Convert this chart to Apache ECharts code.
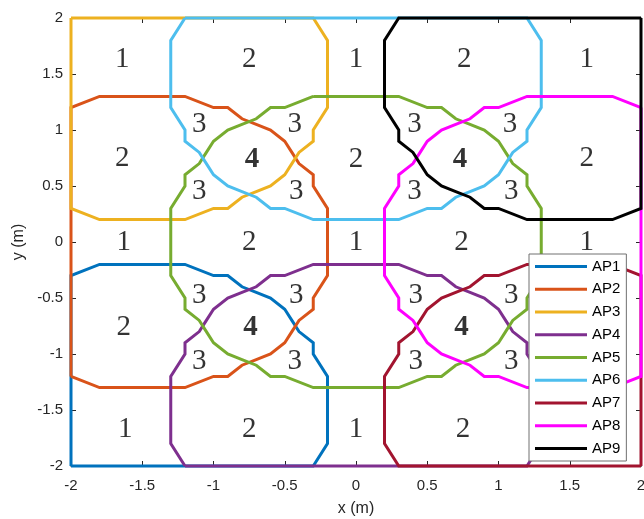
<!DOCTYPE html>
<html><head><meta charset="utf-8">
<script src="https://cdn.jsdelivr.net/npm/echarts@6/dist/echarts.min.js"></script>
<style>html,body{margin:0;padding:0;background:#fff}#c{width:644px;height:519px}</style>
</head><body><div id="c"></div>
<script>
const apNames = ['AP1','AP2','AP3','AP4','AP5','AP6','AP7','AP8','AP9'];
const apColors = ['#0072BD','#D95319','#EDB120','#7E2F8E','#77AC30','#4DBEEE','#A2142F','#FF00FF','#000000'];

const ap1 = [[-2,-2],[-2,-0.3],[-1.8,-0.2],[-1.2,-0.2],[-1.0,-0.3],[-0.9,-0.3],[-0.8,-0.4],[-0.7,-0.45],[-0.6,-0.5],[-0.5,-0.6],[-0.45,-0.7],[-0.4,-0.8],[-0.3,-0.9],[-0.3,-1.0],[-0.2,-1.2],[-0.2,-1.8],[-0.3,-2],[-2,-2]];
const ap2 = [[-2,-1.2],[-2,1.2],[-1.8,1.3],[-1.2,1.3],[-1.0,1.2],[-0.9,1.2],[-0.8,1.1],[-0.7,1.05],[-0.6,1.0],[-0.5,0.9],[-0.45,0.8],[-0.4,0.7],[-0.3,0.6],[-0.3,0.5],[-0.2,0.3],[-0.2,-0.3],[-0.3,-0.5],[-0.3,-0.6],[-0.4,-0.7],[-0.45,-0.8],[-0.5,-0.9],[-0.6,-1.0],[-0.7,-1.05],[-0.8,-1.1],[-0.9,-1.2],[-1.0,-1.2],[-1.2,-1.3],[-1.8,-1.3],[-2,-1.2]];
const ap3 = [[-2,2],[-2,0.3],[-1.8,0.2],[-1.2,0.2],[-1.0,0.3],[-0.9,0.3],[-0.8,0.4],[-0.7,0.45],[-0.6,0.5],[-0.5,0.6],[-0.45,0.7],[-0.4,0.8],[-0.3,0.9],[-0.3,1.0],[-0.2,1.2],[-0.2,1.8],[-0.3,2],[-2,2]];
const ap4 = [[-1.2,-2],[-1.3,-1.8],[-1.3,-1.2],[-1.2,-1.0],[-1.2,-0.9],[-1.1,-0.8],[-1.05,-0.7],[-1.0,-0.6],[-0.9,-0.5],[-0.8,-0.45],[-0.7,-0.4],[-0.6,-0.3],[-0.5,-0.3],[-0.3,-0.2],[0.3,-0.2],[0.5,-0.3],[0.6,-0.3],[0.7,-0.4],[0.8,-0.45],[0.9,-0.5],[1.0,-0.6],[1.05,-0.7],[1.1,-0.8],[1.2,-0.9],[1.2,-1.0],[1.3,-1.2],[1.3,-1.8],[1.2,-2],[-1.2,-2]];
const ap5 = [[-0.3,1.3],[0.3,1.3],[0.5,1.2],[0.6,1.2],[0.7,1.1],[0.8,1.05],[0.9,1.0],[1.0,0.9],[1.05,0.8],[1.1,0.7],[1.2,0.6],[1.2,0.5],[1.3,0.3],[1.3,-0.3],[1.2,-0.5],[1.2,-0.6],[1.1,-0.7],[1.05,-0.8],[1.0,-0.9],[0.9,-1.0],[0.8,-1.05],[0.7,-1.1],[0.6,-1.2],[0.5,-1.2],[0.3,-1.3],[-0.3,-1.3],[-0.5,-1.2],[-0.6,-1.2],[-0.7,-1.1],[-0.8,-1.05],[-0.9,-1.0],[-1.0,-0.9],[-1.05,-0.8],[-1.1,-0.7],[-1.2,-0.6],[-1.2,-0.5],[-1.3,-0.3],[-1.3,0.3],[-1.2,0.5],[-1.2,0.6],[-1.1,0.7],[-1.05,0.8],[-1.0,0.9],[-0.9,1.0],[-0.8,1.05],[-0.7,1.1],[-0.6,1.2],[-0.5,1.2],[-0.3,1.3]];
const ap6 = [[-1.2,2],[-1.3,1.8],[-1.3,1.2],[-1.2,1.0],[-1.2,0.9],[-1.1,0.8],[-1.05,0.7],[-1.0,0.6],[-0.9,0.5],[-0.8,0.45],[-0.7,0.4],[-0.6,0.3],[-0.5,0.3],[-0.3,0.2],[0.3,0.2],[0.5,0.3],[0.6,0.3],[0.7,0.4],[0.8,0.45],[0.9,0.5],[1.0,0.6],[1.05,0.7],[1.1,0.8],[1.2,0.9],[1.2,1.0],[1.3,1.2],[1.3,1.8],[1.2,2],[-1.2,2]];
const ap7 = [[2,-2],[0.3,-2],[0.2,-1.8],[0.2,-1.2],[0.3,-1.0],[0.3,-0.9],[0.4,-0.8],[0.45,-0.7],[0.5,-0.6],[0.6,-0.5],[0.7,-0.45],[0.8,-0.4],[0.9,-0.3],[1.0,-0.3],[1.2,-0.2],[1.8,-0.2],[2,-0.3],[2,-2]];
const ap8 = [[2,1.2],[1.8,1.3],[1.2,1.3],[1.0,1.2],[0.9,1.2],[0.8,1.1],[0.7,1.05],[0.6,1.0],[0.5,0.9],[0.45,0.8],[0.4,0.7],[0.3,0.6],[0.3,0.5],[0.2,0.3],[0.2,-0.3],[0.3,-0.5],[0.3,-0.6],[0.4,-0.7],[0.45,-0.8],[0.5,-0.9],[0.6,-1.0],[0.7,-1.05],[0.8,-1.1],[0.9,-1.2],[1.0,-1.2],[1.2,-1.3],[1.8,-1.3],[2,-1.2],[2,1.2]];
const ap9 = [[2,2],[0.3,2],[0.2,1.8],[0.2,1.2],[0.3,1.0],[0.3,0.9],[0.4,0.8],[0.45,0.7],[0.5,0.6],[0.6,0.5],[0.7,0.45],[0.8,0.4],[0.9,0.3],[1.0,0.3],[1.2,0.2],[1.8,0.2],[2,0.3],[2,2]];
const apData = [ap1, ap2, ap3, ap4, ap5, ap6, ap7, ap8, ap9];

// overlap-count labels
const labelText = ['1','2','1','2','1',
  '3','3','3','3',
  '2','4','2','4','2',
  '3','3','3','3',
  '1','2','1','2','1',
  '3','3','3','3',
  '2','4','4',
  '3','3','3','3',
  '1','2','1','2'];
const labelX = [-1.64,-0.75,0,0.76,1.62,
  -1.1,-0.43,0.41,1.08,
  -1.64,-0.73,0,0.73,1.62,
  -1.1,-0.42,0.41,1.09,
  -1.63,-0.75,0,0.74,1.62,
  -1.1,-0.42,0.42,1.09,
  -1.63,-0.74,0.74,
  -1.1,-0.43,0.42,1.09,
  -1.62,-0.75,0,0.75];
const labelY = [1.63,1.63,1.63,1.63,1.63,
  1.05,1.05,1.05,1.05,
  0.75,0.74,0.74,0.74,0.75,
  0.45,0.45,0.45,0.45,
  0,0,0,0,0,
  -0.48,-0.48,-0.48,-0.48,
  -0.76,-0.76,-0.76,
  -1.07,-1.07,-1.07,-1.07,
  -1.67,-1.67,-1.67,-1.67];

const axisColor = '#262626';
const sans = 'Liberation Sans, Arial, Helvetica, sans-serif';
const serif = 'Liberation Serif, Times New Roman, serif';

const series = apNames.map((n, i) => ({
  name: n, type: 'line', data: apData[i], symbol: 'none', clip: false,
  color: apColors[i],
  lineStyle: { width: 3, color: apColors[i], join: 'miter' },
  z: 2, animation: false
}));
series.push({
  name: 'labels', type: 'scatter', symbolSize: 1, itemStyle: { color: 'rgba(0,0,0,0)' },
  data: labelText.map((t, i) => ({
    value: [labelX[i], labelY[i]], name: t,
    label: { fontWeight: t === '4' ? 'bold' : 'normal' }
  })),
  label: { show: true, position: 'inside', formatter: p => p.name, fontFamily: serif, fontSize: 29, color: '#000' },
  z: 3, animation: false, silent: true
});

const mkX = (pos, show) => ({
  type: 'value', min: -2, max: 2, interval: 0.5, position: pos,
  axisLine: { show: true, onZero: false, lineStyle: { color: axisColor, width: 1 } },
  axisTick: { show: true, inside: true, length: 5, lineStyle: { color: axisColor } },
  axisLabel: { show: show, color: axisColor, fontFamily: sans, fontSize: 15, margin: 12 },
  splitLine: { show: false },
  name: show ? 'x (m)' : '', nameLocation: 'middle', nameGap: 35,
  nameTextStyle: { color: axisColor, fontFamily: sans, fontSize: 16 }
});
const mkY = (pos, show) => ({
  type: 'value', min: -2, max: 2, interval: 0.5, position: pos,
  axisLine: { show: true, onZero: false, lineStyle: { color: axisColor, width: 1 } },
  axisTick: { show: true, inside: true, length: 5, lineStyle: { color: axisColor } },
  axisLabel: { show: show, color: axisColor, fontFamily: sans, fontSize: 15, margin: 8 },
  splitLine: { show: false },
  name: show ? 'y (m)' : '', nameLocation: 'middle', nameGap: 44,
  nameTextStyle: { color: axisColor, fontFamily: sans, fontSize: 16 }
});

const chart = echarts.init(document.getElementById('c'), null, { renderer: 'canvas' });
chart.setOption({
  animation: false,
  backgroundColor: '#fff',
  grid: { left: 71, right: 3, top: 18, bottom: 53, containLabel: false, outerBoundsMode: 'none' },
  xAxis: [mkX('bottom', true), mkX('top', false)],
  yAxis: [mkY('left', true), mkY('right', false)],
  legend: {
    data: apNames, orient: 'vertical', left: 529, top: 254,
    itemWidth: 52, itemHeight: 14, itemGap: 7.75,
    padding: [5, 6, 5, 6],
    backgroundColor: '#fff', borderColor: '#707070', borderWidth: 1,
    textStyle: { fontFamily: sans, fontSize: 15, color: '#000' },
    icon: 'path://M0,0 L52,0 L52,3 L0,3 Z', itemStyle: { borderWidth: 0 },
    selectedMode: false, z: 10
  },
  series: series
});
</script></body></html>
